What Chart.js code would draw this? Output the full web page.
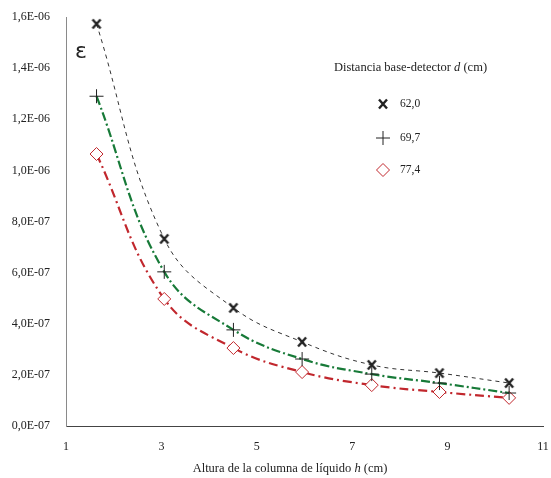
<!DOCTYPE html>
<html>
<head>
<meta charset="utf-8">
<script src="https://cdn.jsdelivr.net/npm/chart.js@4/dist/chart.umd.min.js"></script>
<style>
  html, body { margin: 0; padding: 0; background: #fff; }
  #wrap { position: relative; width: 551px; height: 478px; }
</style>
</head>
<body>
<div id="wrap"><canvas id="chart"></canvas></div>
<script>
// --- DATA ---
const hValues = [1.64, 3.06, 4.51, 5.95, 7.41, 8.83, 10.29];
const eps620 = [1.573e-6, 0.732e-6, 0.462e-6, 0.329e-6, 0.239e-6, 0.207e-6, 0.168e-6];
const eps697 = [1.290e-6, 0.603e-6, 0.376e-6, 0.262e-6, 0.203e-6, 0.168e-6, 0.129e-6];
const eps774 = [1.064e-6, 0.497e-6, 0.305e-6, 0.211e-6, 0.160e-6, 0.133e-6, 0.110e-6];
const seriesLabels = ['62,0', '69,7', '77,4'];
const xTicks = [1, 3, 5, 7, 9, 11];
const yTickLabels = ['0,0E-07', '2,0E-07', '4,0E-07', '6,0E-07', '8,0E-07',
                     '1,0E-06', '1,2E-06', '1,4E-06', '1,6E-06'];

const serif = '"Liberation Serif", "DejaVu Serif", serif';
const red = '#c1272d';
const green = '#177a38';

// bold "x" marker drawn on a small canvas
function makeXMarker() {
  const c = document.createElement('canvas');
  c.width = 14; c.height = 14;
  const g = c.getContext('2d');
  g.strokeStyle = '#222';
  g.lineWidth = 2.4;
  g.beginPath();
  g.moveTo(3, 2.5); g.lineTo(11, 11.5);
  g.moveTo(11, 2.5); g.lineTo(3, 11.5);
  g.stroke();
  return c;
}
const xMarker = makeXMarker();

function pts(ys) {
  return hValues.map((h, i) => ({ x: h, y: ys[i] }));
}

const styles = [
  { marker: xMarker, radius: 7, color: '#222', line: '#333', width: 1, dash: [4, 4] },
  { marker: 'cross', radius: 7, color: '#222', line: green, width: 2.2, dash: [9, 3, 2, 3] },
  { marker: 'rectRot', radius: 6.5, color: red, line: red, width: 2.2, dash: [9, 4, 2, 4] }
];

// legend, epsilon and x title with italic parts
const overlay = {
  id: 'overlay',
  afterDraw(chart) {
    const ctx = chart.ctx;
    ctx.save();
    ctx.fillStyle = '#222';
    ctx.textBaseline = 'middle';

    function pieces(parts, x, y, align) {
      let total = 0;
      parts.forEach(p => { ctx.font = p[1]; total += ctx.measureText(p[0]).width; });
      let cx = align === 'center' ? x - total / 2 : x;
      parts.forEach(p => {
        ctx.font = p[1];
        ctx.textAlign = 'left';
        ctx.fillText(p[0], cx, y);
        cx += ctx.measureText(p[0]).width;
      });
    }

    const f = '12.5px ' + serif, fi = 'italic 12.5px ' + serif;
    pieces([['Distancia base-detector ', f], ['d', fi], [' (cm)', f]], 334, 68, 'left');
    pieces([['Altura de la columna de líquido ', f], ['h', fi], [' (cm)', f]], 290, 469, 'center');

    ctx.font = '22px "DejaVu Sans", sans-serif';
    ctx.textAlign = 'center';
    ctx.fillText('ε', 81, 52);

    const rows = [104, 138, 170];
    rows.forEach((y, i) => {
      const s = styles[i];
      ctx.strokeStyle = s.color;
      ctx.fillStyle = '#fff';
      ctx.lineWidth = 1;
      Chart.helpers.drawPoint(ctx, { pointStyle: s.marker, radius: s.radius, borderWidth: 1 }, 383, y);
      ctx.fillStyle = '#222';
      ctx.font = '11.5px ' + serif;
      ctx.textAlign = 'left';
      ctx.fillText(seriesLabels[i], 400, y);
    });
    ctx.restore();
  }
};

const datasets = [eps620, eps697, eps774].map((ys, i) => ({
  label: seriesLabels[i],
  data: pts(ys),
  showLine: true,
  tension: 0.4,
  borderColor: styles[i].line,
  borderWidth: styles[i].width,
  borderDash: styles[i].dash,
  pointStyle: styles[i].marker,
  pointRadius: styles[i].radius,
  pointBorderColor: styles[i].color,
  pointBackgroundColor: '#fff',
  pointBorderWidth: 1
}));

new Chart(document.getElementById('chart'), {
  type: 'scatter',
  data: { datasets },
  plugins: [overlay],
  options: {
    responsive: true,
    maintainAspectRatio: false,
    animation: false,
    layout: { padding: { top: 17, right: 0, left: 0, bottom: 0 } },
    plugins: { legend: { display: false }, tooltip: { enabled: false } },
    scales: {
      x: {
        type: 'linear',
        min: 1, max: 11,
        afterBuildTicks: s => { s.ticks = xTicks.map(v => ({ value: v })); },
        afterFit: s => { s.height = 52; },
        grid: { display: false, tickLength: 14 },
        border: { display: true, color: '#444', width: 1 },
        ticks: { color: '#222', font: { family: serif, size: 12 }, padding: 0 }
      },
      y: {
        min: 0, max: 1.6e-6,
        afterBuildTicks: s => { s.ticks = yTickLabels.map((t, i) => ({ value: i * 2e-7 })); },
        afterFit: s => { s.width = 66; },
        grid: { display: false, tickLength: 16 },
        border: { display: true, color: '#8a8a8a', width: 1 },
        ticks: {
          color: '#222', font: { family: serif, size: 12 }, padding: 0,
          callback: (v, i) => yTickLabels[i]
        }
      }
    }
  }
});
</script>
</body>
</html>
